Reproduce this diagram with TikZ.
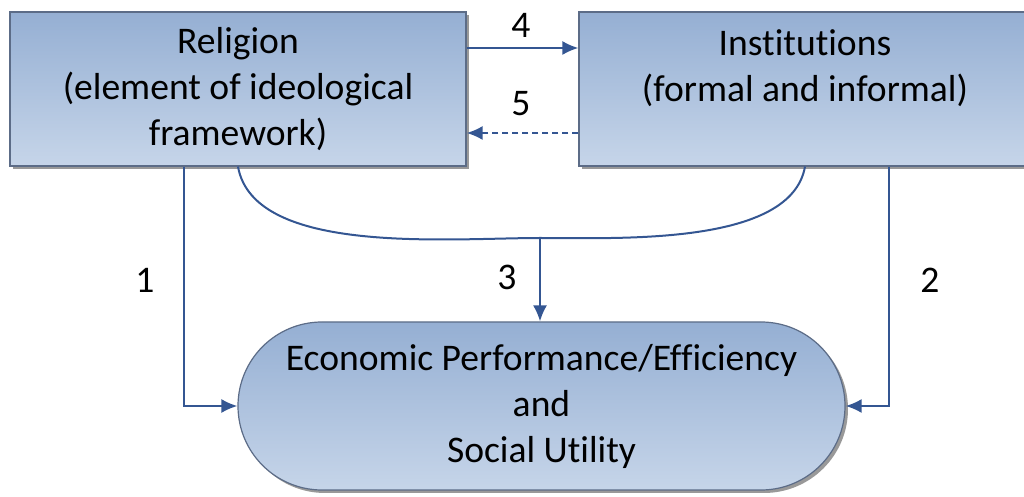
\documentclass[tikz,border=0pt]{standalone}
\usepackage{fontspec}
\setmainfont{Carlito}[Ligatures=NoCommon]
\usepackage{xcolor}
\usepackage{tikz}
\usetikzlibrary{arrows.meta,positioning,shadows}

\definecolor{boxtop}{RGB}{149,175,211}
\definecolor{boxbottom}{RGB}{198,213,233}
\definecolor{boxline}{RGB}{92,108,135}
\definecolor{linkcol}{RGB}{52,86,146}

\begin{document}
\begin{tikzpicture}[
    x=0.5pt, y=-0.5pt,
    every node/.style={font=\fontsize{18.8}{23}\selectfont},
    block/.style={draw=boxline, line width=0.6pt, top color=boxtop, bottom color=boxbottom,
        drop shadow={shadow xshift=1.5pt, shadow yshift=-1.5pt, fill=black!40, opacity=1},
        align=center},
    link/.style={draw=linkcol, line width=1pt},
    tip/.style={-{Latex[length=8pt,width=7pt]}},
    num/.style={font=\fontsize{18.8}{23}\selectfont}
]

\useasboundingbox (0,0) rectangle (1024,497);

% Boxes
\node[block, minimum width=228pt, minimum height=77pt] (religion) at (238,89)
    {Religion\\(element of ideological\\framework)};
\node[block, minimum width=226pt, minimum height=77pt] (institutions) at (805,89)
    {Institutions\\(formal and informal)\\\mbox{}};
\node[block, minimum width=303.5pt, minimum height=84pt, rounded corners=42pt] (performance) at (541.5,406)
    {Economic Performance/Efficiency\\and\\Social Utility};

% Links 4 and 5 between the boxes
\draw[link, tip] ([yshift=20.5pt]religion.east) -- ([yshift=20.5pt]institutions.west);
\draw[link, tip, dashed, dash pattern=on 3pt off 2pt] ([yshift=-22pt]institutions.west) -- ([yshift=-22pt]religion.east);

% Joint effect (3)
\coordinate (join) at (540,238);
\draw[link] (religion.south) to[out=-80, in=180, looseness=0.75] (join)
    to[out=0, in=-100, looseness=0.75] (institutions.south);
\draw[link, tip] (join) -- (join |- performance.north);

% Direct effects (1 and 2)
\draw[link, tip] ([xshift=-27pt]religion.south) |- (performance.west);
\draw[link, tip] ([xshift=42pt]institutions.south) |- (performance.east);

% Labels
\node[num] (l1) at (145,280) {1};
\node[num] (l2) at (930,280) {2};
\node[num] (l3) at (507,277) {3};
\node[num] (l4) at (521,25) {4};
\node[num] (l5) at (521,104) {5};

\end{tikzpicture}
\end{document}
